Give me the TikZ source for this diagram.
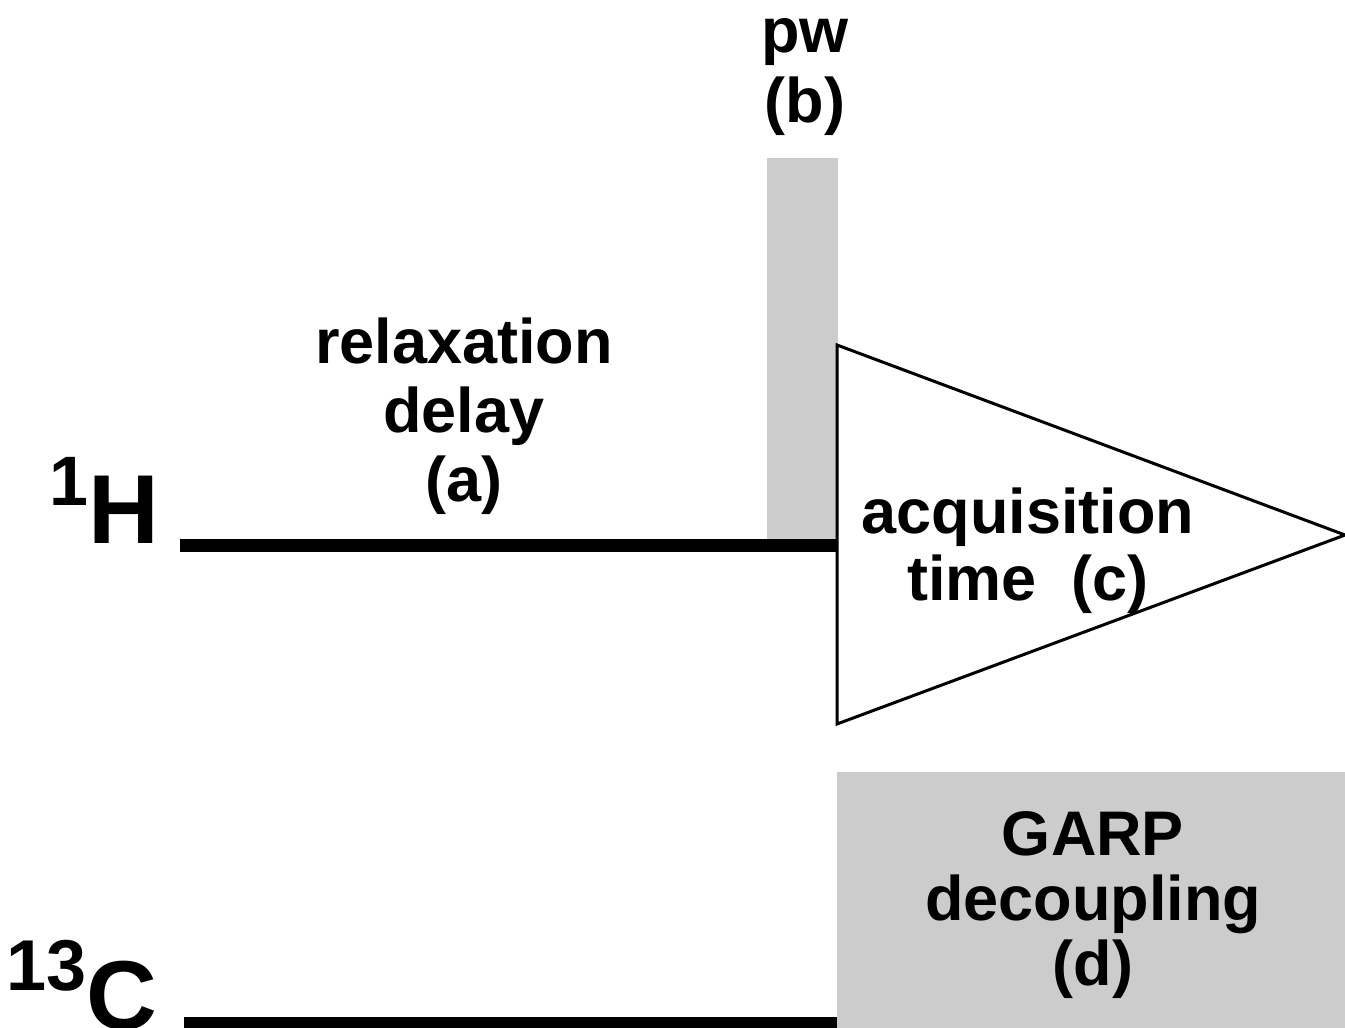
\documentclass[tikz,border=0pt]{standalone}
\usepackage{fontspec}
\setmainfont{Liberation Sans}
\definecolor{pulsegray}{gray}{0.8}
\begin{document}
\begin{tikzpicture}
        [x = 1pt, y = -1pt,
            inner sep = 0pt,
            channel/.style = {line width=13pt},
            pulse/.style = {fill=pulsegray},
            fid/.style = {draw, fill=white, line width=3pt},
            label/.style = {align=center, anchor=base, font=\fontsize{63}{69}\selectfont\bfseries},
            nucleus/.style = {anchor=base west, font=\bfseries}]

        \useasboundingbox (0,0) rectangle (1345,1028);

        \coordinate (Hstart) at (180,545.5);
        \coordinate (Hend) at (837,545.5);
        \coordinate (Cstart) at (184,1023.5);
        \coordinate (Cend) at (837,1023.5);

        \fill[pulse] (767,158) rectangle (838,540);
        \fill[pulse] (837,772) rectangle (1345,1030);

        \draw[channel] (Hstart) -- (Hend);
        \draw[channel] (Cstart) -- (Cend);

        \draw[fid] (837,345) -- (1345,535) -- (837,724) -- cycle;

        \node[nucleus] (H) at (49,543)
            {{\fontsize{70}{70}\selectfont\raisebox{38pt}{1}}{\fontsize{98}{98}\selectfont H}};
        \node[nucleus] (C) at (6,1029)
            {{\fontsize{72}{72}\selectfont\raisebox{39pt}{13}}{\fontsize{98}{98}\selectfont C}};

        % labels sit on the baseline of their last line
        \node[label] (delay) at (464,501) {relaxation\\delay\\(a)};
        \node[label] (pw) at (805,122) {pw\\[1pt](b)};
        \node[label] (acq) at (1028,600) {acquisition\\[-2pt]time~~(c)};
        \node[label] (garp) at (1093,985) {GARP\\[-4pt]decoupling\\[-4pt](d)};
\end{tikzpicture}
\end{document}
